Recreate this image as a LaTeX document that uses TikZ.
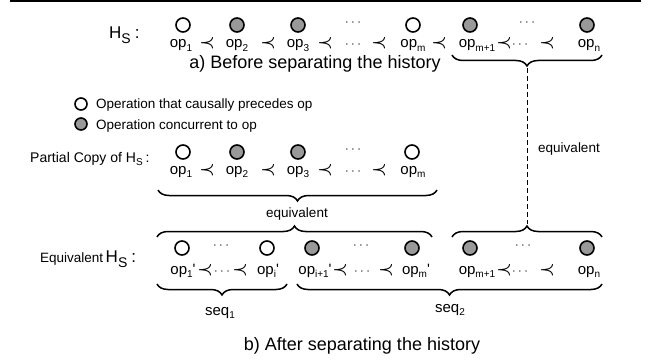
\documentclass[tikz,border=0pt]{standalone}
\usepackage{fontspec}
\setmainfont{Liberation Sans}
\usetikzlibrary{decorations.pathreplacing}
\definecolor{opgray}{RGB}{153,153,153}
\newcommand\fs[1]{\fontsize{#1}{#1}\selectfont}
\newcommand\opl[1]{op\raisebox{-3.5pt}{\fs{10}#1}}
\newcommand\oplp[1]{op\raisebox{-3.5pt}{\fs{10}#1}\textquotesingle}
\newcommand\pr{{\fs{18}\boldmath$\prec$}}
\newcommand\threedots{·\hspace{2.5pt}·\hspace{2.5pt}·}
\begin{document}
\begin{tikzpicture}[x=1pt,y=-1pt,
  opw/.style={circle,draw,line width=1.6pt,minimum size=14pt,inner sep=0pt,fill=white},
  opg/.style={opw,fill=opgray},
  lbl/.style={anchor=base,inner sep=0pt,font=\fs{15}},
  dts/.style={anchor=base,inner sep=0pt,font=\fs{11}},
  brc/.style={decorate,decoration={brace,amplitude=11pt},line width=1.5pt},
  capt/.style={anchor=base,inner sep=0pt,font=\fs{18}},
  smalltxt/.style={anchor=base,inner sep=0pt,font=\fs{13.5}}]
\useasboundingbox (0,0) rectangle (654,361);
% top rule
\coordinate (ruleL) at (10,1);
\coordinate (ruleR) at (641,1);
\draw[line width=2pt] (ruleL) -- (ruleR);

% ---------- row 1 ----------
\node[anchor=base west,inner sep=0pt,font=\fs{17}] (hs1) at (109,39) {H\raisebox{-5pt}{\fs{14}S}\hspace{4pt}:};
\node[opw] (a1) at (183,25) {};
\node[opg] (a2) at (237,25) {};
\node[opg] (a3) at (298,25) {};
\node[dts] (ad1) at (353,25.5) {\threedots};
\node[opw] (a4) at (413,25) {};
\node[opg] (a5) at (470,25) {};
\node[dts] (ad2) at (527,25.5) {\threedots};
\node[opg] (a6) at (587,25) {};

\node[lbl] (al1) at (181,48) {\opl{1}};
\node[lbl] (ap1) at (207,48) {\pr};
\node[lbl] (al2) at (237,48) {\opl{2}};
\node[lbl] (ap2) at (268,48) {\pr};
\node[lbl] (al3) at (298,48) {\opl{3}};
\node[lbl] (ap3) at (325,48) {\pr};
\node[dts] (ald1) at (353,48) {\threedots};
\node[lbl] (ap4) at (379,48) {\pr};
\node[lbl] (al4) at (413,48) {\opl{m}};
\node[lbl] (ap5) at (439,48) {\pr};
\node[lbl] (al5) at (477,48) {\opl{m+1}};
\node[lbl] (ap6) at (504,48) {\pr};
\node[dts] (ald2) at (520,48) {\threedots};
\node[lbl] (ap7) at (547,48) {\pr};
\node[lbl] (al6) at (589,48) {\opl{n}};

\node[capt] (capa) at (315,69) {a) Before separating the history};
\coordinate (b1r) at (602,55);
\coordinate (b1l) at (452,55);
\draw[brc] (b1r) -- (b1l);

% dashed equivalence
\coordinate (t1) at (527,68);
\coordinate (t2) at (527,224);
\draw[line width=0.8pt,dash pattern=on 5pt off 3pt] (t1) -- (t2);
\node[smalltxt] (eqr) at (569,152) {equivalent};

% ---------- legend ----------
\node[opw,minimum size=12pt] (lg1) at (81,104) {};
\node[smalltxt,anchor=base west] (lg1t) at (96,109) {Operation that causally precedes op};
\node[opg,minimum size=12pt] (lg2) at (81,124) {};
\node[smalltxt,anchor=base west] (lg2t) at (96,129) {Operation concurrent to op};

% ---------- partial copy ----------
\node[anchor=base west,inner sep=0pt,font=\fs{14}] (pc) at (30,162) {Partial Copy of H\raisebox{-3pt}{\fs{10}S}\hspace{3pt}:};
\node[opw] (p1) at (183,152) {};
\node[opg] (p2) at (237,152) {};
\node[opg] (p3) at (298,152) {};
\node[dts] (pd1) at (353,152.5) {\threedots};
\node[opw] (p4) at (412,152) {};

\node[lbl] (pl1) at (181,174) {\opl{1}};
\node[lbl] (pp1) at (207,174) {\pr};
\node[lbl] (pl2) at (237,174) {\opl{2}};
\node[lbl] (pp2) at (268,174) {\pr};
\node[lbl] (pl3) at (298,174) {\opl{3}};
\node[lbl] (pp3) at (325,174) {\pr};
\node[dts] (pld1) at (353,174) {\threedots};
\node[lbl] (pp4) at (379,174) {\pr};
\node[lbl] (pl4) at (413,174) {\opl{m}};

\coordinate (b2r) at (437,190);
\coordinate (b2l) at (158,190);
\draw[brc] (b2r) -- (b2l);
\node[smalltxt] (eqm) at (297,217) {equivalent};

% ---------- equivalent H_S ----------
\node[anchor=base west,inner sep=0pt,font=\fs{17}] (ehs) at (40,262) {{\fs{13.5}Equivalent}\hspace{2.5pt}H\raisebox{-5pt}{\fs{14}S}\hspace{4pt}:};
\coordinate (b3l) at (157,237);
\coordinate (b3r) at (432,237);
\draw[brc] (b3l) -- (b3r);
\coordinate (b4l) at (452,237);
\coordinate (b4r) at (602,237);
\draw[brc] (b4l) -- (b4r);

\node[opw] (e1) at (182,248) {};
\node[dts] (ed1) at (221,248.5) {\threedots};
\node[opw] (e2) at (267,248) {};
\node[opg] (e3) at (312,248) {};
\node[dts] (ed2) at (361,248.5) {\threedots};
\node[opg] (e4) at (412,248) {};
\node[opg] (e5) at (470,248) {};
\node[dts] (ed3) at (523,248.5) {\threedots};
\node[opg] (e6) at (587,248) {};

\node[lbl] (el1) at (183,274) {\oplp{1}};
\node[lbl] (ep1) at (205,274) {\pr};
\node[dts] (eld1) at (222,274) {\threedots};
\node[lbl] (ep2) at (240,274) {\pr};
\node[lbl] (el2) at (268,274) {\oplp{i}};
\node[lbl] (el3) at (315,274) {\oplp{i+1}};
\node[lbl] (ep3) at (340,274) {\pr};
\node[dts] (eld2) at (362,274) {\threedots};
\node[lbl] (ep4) at (386,274) {\pr};
\node[lbl] (el4) at (416,274) {\oplp{m}};
\node[lbl] (el5) at (477,274) {\opl{m+1}};
\node[lbl] (ep5) at (504,274) {\pr};
\node[dts] (eld3) at (520,274) {\threedots};
\node[lbl] (ep6) at (547,274) {\pr};
\node[lbl] (el6) at (589,274) {\opl{n}};

\coordinate (b5r) at (287,284);
\coordinate (b5l) at (157,284);
\draw[brc] (b5r) -- (b5l);
\coordinate (b6r) at (602,284);
\coordinate (b6l) at (297,284);
\draw[brc] (b6r) -- (b6l);
\node[lbl] (seq1) at (220,315) {seq\raisebox{-3.5pt}{\fs{10}1}};
\node[lbl] (seq2) at (450,312) {seq\raisebox{-3.5pt}{\fs{10}2}};

\node[capt] (capb) at (362,350) {b) After separating the history};
\end{tikzpicture}
\end{document}
